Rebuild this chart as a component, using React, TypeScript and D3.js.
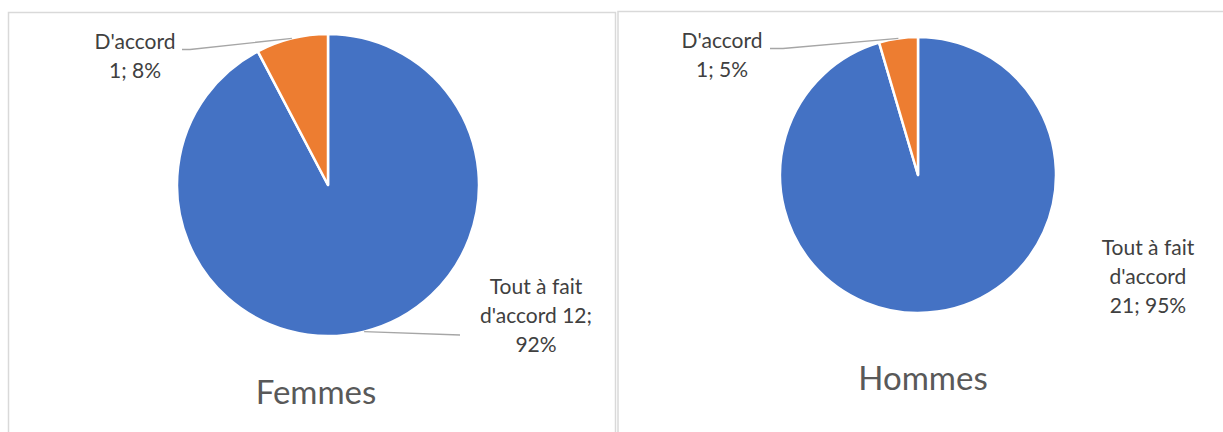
import React from "react";
import { pie, arc } from "d3";

// data
const categories = ["Tout à fait d'accord", "D'accord"];
const femmesValues = [12, 1];
const hommesValues = [21, 1];
const colors = ["#4472C4", "#ED7D31"];

const FONT = "Lato, 'Open Sans', sans-serif";

type Panel = {
  title: string;
  values: number[];
  box: { x: number; y: number; w: number; h: number };
  cx: number;
  cy: number;
  r: number;
  titleX: number;
  titleY: number;
  // label layout per slice: lines anchor + optional leader end
  labels: { x: number; y: number; lines: (v: number, p: string) => string[]; leader?: [number, number][] }[];
};

const panels: Panel[] = [
  {
    title: "Femmes",
    values: femmesValues,
    box: { x: 8.5, y: 12.5, w: 607, h: 440 },
    cx: 328,
    cy: 185,
    r: 151,
    titleX: 316,
    titleY: 404,
    labels: [
      {
        x: 536,
        y: 294,
        lines: (v, p) => ["Tout à fait", `d'accord ${v};`, p],
        leader: [[460, 335]],
      },
      {
        x: 135,
        y: 49,
        lines: (v, p) => ["D'accord", `${v}; ${p}`],
        leader: [[182, 49.5], [190, 49.5]],
      },
    ],
  },
  {
    title: "Hommes",
    values: hommesValues,
    box: { x: 618, y: 11.5, w: 640, h: 440 },
    cx: 918,
    cy: 175,
    r: 138,
    titleX: 923,
    titleY: 390,
    labels: [
      {
        x: 1148,
        y: 255,
        lines: (v, p) => ["Tout à fait", "d'accord", `${v}; ${p}`],
      },
      {
        x: 722,
        y: 48,
        lines: (v, p) => ["D'accord", `${v}; ${p}`],
        leader: [[770, 48.5], [783, 48.5]],
      },
    ],
  },
];

const PiePanel = ({ p }: { p: Panel }) => {
  const total = p.values.reduce((a, b) => a + b, 0);
  const slices = pie<number>().sort(null)(p.values);
  const arcGen = arc<any>().innerRadius(0).outerRadius(p.r);
  const edge = arc<any>().innerRadius(p.r).outerRadius(p.r);
  return (
    <g>
      <rect x={p.box.x} y={p.box.y} width={p.box.w} height={p.box.h} fill="#fff" stroke="#d9d9d9" strokeWidth={1.5} />
      <g transform={`translate(${p.cx},${p.cy})`}>
        {slices.map((s, i) => (
          <path key={categories[i]} d={arcGen(s) || ""} fill={colors[i]} stroke="#fff" strokeWidth={2.5} strokeLinejoin="round" />
        ))}
      </g>
      {slices.map((s, i) => {
        const lab = p.labels[i];
        const pct = `${Math.round((p.values[i] / total) * 100)}%`;
        const lines = lab.lines(p.values[i], pct);
        const [mx, my] = edge.centroid(s);
        const pts: [number, number][] = lab.leader ? [...lab.leader, [p.cx + mx, p.cy + my]] : [];
        return (
          <g key={"lab" + i}>
            {pts.length > 0 && (
              <polyline points={pts.map((d) => d.join(",")).join(" ")} fill="none" stroke="#a6a6a6" strokeWidth={1.3} />
            )}
            <text x={lab.x} y={lab.y} textAnchor="middle" fontFamily={FONT} fontSize={21} fill="#404040">
              {lines.map((t, j) => (
                <tspan key={j} x={lab.x} dy={j === 0 ? 0 : 29}>
                  {t}
                </tspan>
              ))}
            </text>
          </g>
        );
      })}
      <text x={p.titleX} y={p.titleY} textAnchor="middle" fontFamily={FONT} fontSize={33} fill="#595959">
        {p.title}
      </text>
    </g>
  );
};

export default function App() {
  return (
    <svg width={1223} height={432} style={{ position: "absolute", left: 0, top: 0, background: "#fff" }}>
      <rect width={1223} height={432} fill="#fff" />
      {panels.map((p) => (
        <PiePanel key={p.title} p={p} />
      ))}
    </svg>
  );
}
